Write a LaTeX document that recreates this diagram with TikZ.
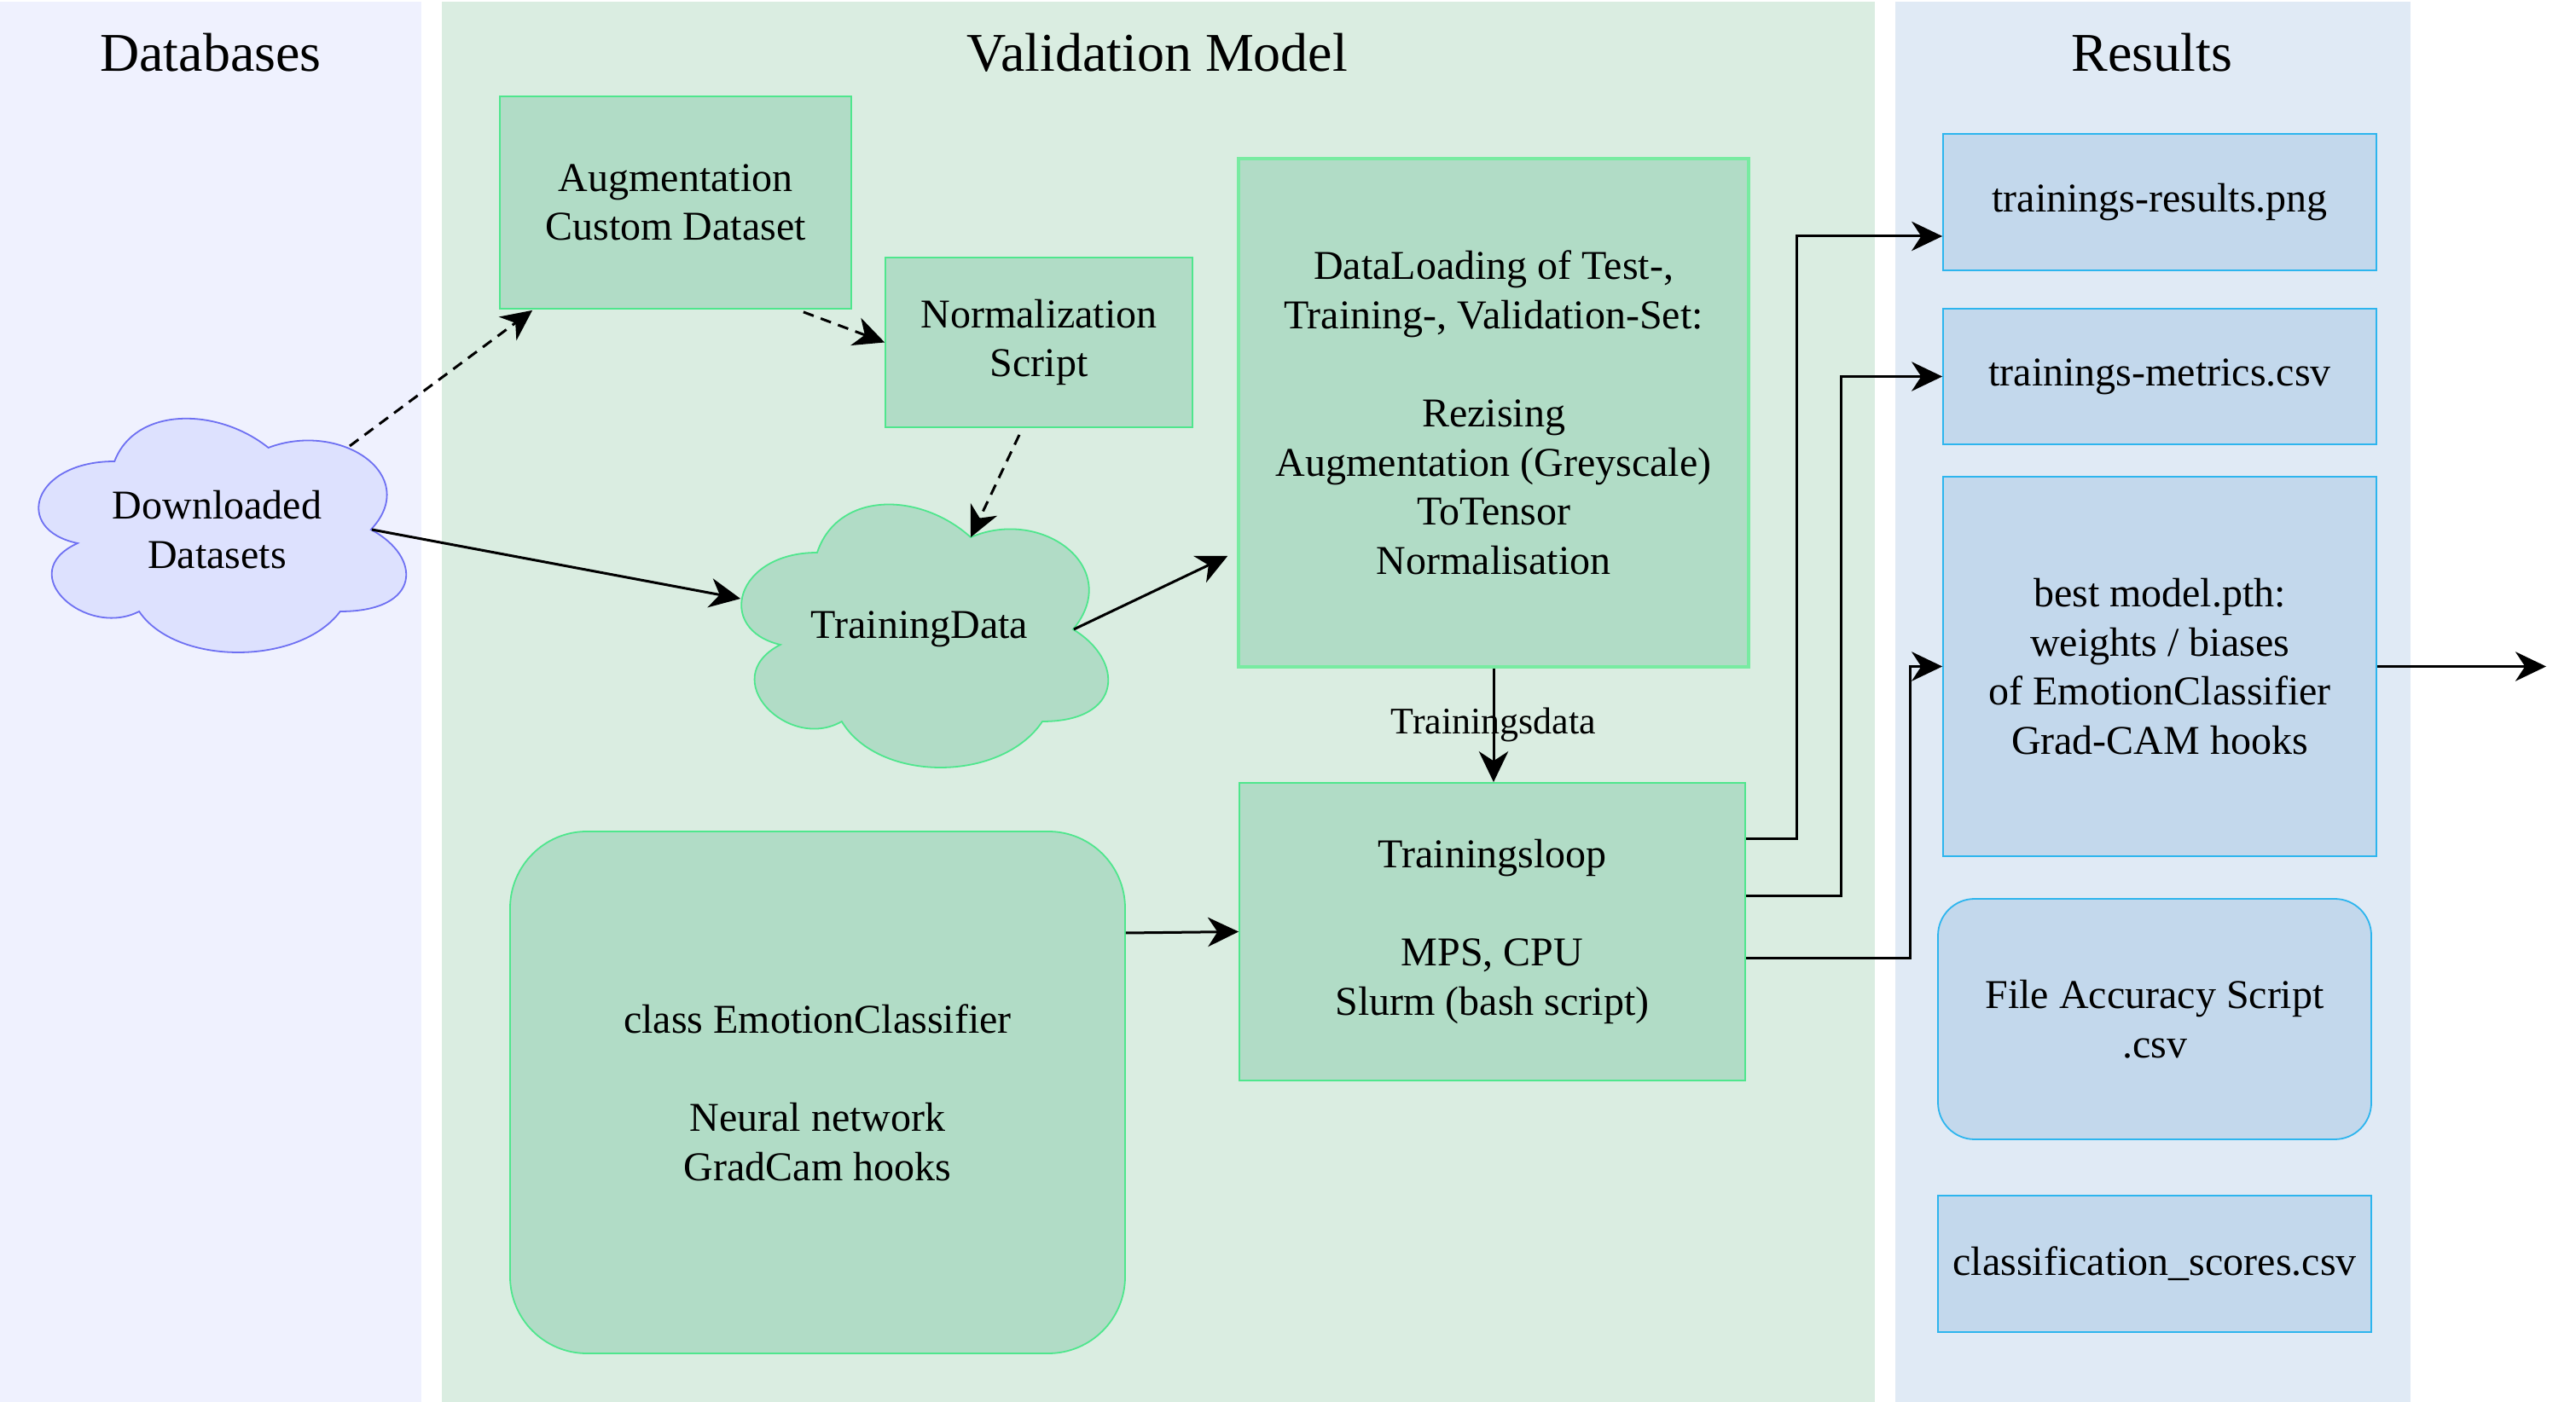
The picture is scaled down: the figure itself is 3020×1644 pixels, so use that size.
\documentclass[tikz,border=0pt]{standalone}
\usepackage{fontspec}
\setmainfont{Liberation Serif}
\usetikzlibrary{arrows.meta,calc}

\definecolor{dbpanel}{HTML}{EFF1FE}
\definecolor{valpanel}{HTML}{DAEDE1}
\definecolor{respanel}{HTML}{E0EAF5}
\definecolor{greenfill}{HTML}{B1DCC6}
\definecolor{greenline}{HTML}{4FE68D}
\definecolor{loadline}{HTML}{78EBA1}
\definecolor{bluefill}{HTML}{C3D8EC}
\definecolor{blueline}{HTML}{2DB5EE}
\definecolor{cloudfill}{HTML}{DDE1FE}
\definecolor{cloudline}{HTML}{6E70F2}

\begin{document}
\begin{tikzpicture}[x=0.25pt, y=-0.25pt,
    box/.style={rectangle, align=center, inner sep=0pt, line width=0.45pt,
                font=\fontsize{12}{14.4}\selectfont},
    greenbox/.style={box, fill=greenfill, draw=greenline},
    bluebox/.style={box, fill=bluefill, draw=blueline},
    cloudtext/.style={box},
    title/.style={inner sep=0pt, font=\fontsize{16}{19.2}\selectfont},
    arrow/.style={-{Stealth[length=9pt, width=8.6pt, inset=2.8pt]}, line width=0.75pt},
    dasharrow/.style={arrow, dash pattern=on 3.2pt off 2.2pt}]

    \useasboundingbox (0,0) rectangle (3020,1644);
    \fill[white] (0,0) rectangle (3020,1644);

    % columns
    \fill[dbpanel] (0,2) rectangle (494,1644);
    \fill[valpanel] (518,2) rectangle (2198,1644);
    \fill[respanel] (2222,2) rectangle (2826,1644);
        \node[title] (dbtitle) at (247,62) {Databases};
        \node[title] (valtitle) at (1357,62) {Validation Model};
        \node[title] (restitle) at (2523,62) {Results};

    % clouds
    \begin{scope}[shift={(14,461)}, x=120.25pt, y=-80pt]
        \draw[fill=cloudfill, draw=cloudline, line width=0.45pt]
            (0.25,0.25) .. controls (0.05,0.25) and (0,0.5) .. (0.16,0.55)
            .. controls (0,0.66) and (0.18,0.9) .. (0.31,0.8)
            .. controls (0.4,1) and (0.7,1) .. (0.8,0.8)
            .. controls (1,0.8) and (1,0.6) .. (0.875,0.5)
            .. controls (1,0.3) and (0.8,0.1) .. (0.625,0.2)
            .. controls (0.5,0.05) and (0.3,0.05) .. (0.25,0.25) -- cycle;
    \end{scope}
    \begin{scope}[shift={(838,558)}, x=120pt, y=-90pt]
        \draw[fill=greenfill, draw=greenline, line width=0.45pt]
            (0.25,0.25) .. controls (0.05,0.25) and (0,0.5) .. (0.16,0.55)
            .. controls (0,0.66) and (0.18,0.9) .. (0.31,0.8)
            .. controls (0.4,1) and (0.7,1) .. (0.8,0.8)
            .. controls (1,0.8) and (1,0.6) .. (0.875,0.5)
            .. controls (1,0.3) and (0.8,0.1) .. (0.625,0.2)
            .. controls (0.5,0.05) and (0.3,0.05) .. (0.25,0.25) -- cycle;
    \end{scope}
        \node[cloudtext, minimum width=120.25pt, minimum height=80pt] (dd) at (254.5,621) {Downloaded\\Datasets};
        \node[cloudtext, minimum width=120pt, minimum height=90pt] (td) at (1078,738) {TrainingData};

    % validation model
    \node[greenbox, minimum width=103pt, minimum height=62.25pt] (aug) at (792,237.5) {Augmentation\\Custom Dataset};
    \node[greenbox, minimum width=90pt, minimum height=49.75pt] (norm) at (1218,401.5) {Normalization\\Script};
    \node[greenbox, draw=loadline, line width=0.9pt, minimum width=149.5pt, minimum height=149pt] (load) at (1751,484)
        {DataLoading of Test-,\\Training-, Validation-Set:\\[14.4pt]Rezising\\Augmentation (Greyscale)\\ToTensor\\Normalisation};
    \node[greenbox, minimum width=148.25pt, minimum height=87.25pt] (loop) at (1749.5,1092.5)
        {Trainingsloop\\[14.4pt]MPS, CPU\\Slurm (bash script)};
    \node[greenbox, rounded corners=22.5pt, minimum width=180.25pt, minimum height=153pt] (clf) at (958.5,1281)
        {class EmotionClassifier\\[14.4pt]Neural network\\GradCam hooks};

    % results
    \node[bluebox, minimum width=127pt, minimum height=40pt] (resimg) at (2532,237) {trainings-results.png};
    \node[bluebox, minimum width=127pt, minimum height=39.75pt] (resmetrics) at (2532,441.5) {trainings-metrics.csv};
    \node[bluebox, minimum width=127pt, minimum height=111.25pt] (bestmodel) at (2532,781.5)
        {best model.pth:\\weights / biases\\of EmotionClassifier\\Grad-CAM hooks};
    \node[bluebox, rounded corners=10.75pt, minimum width=127pt, minimum height=70.5pt] (accuracy) at (2526,1195)
        {File Accuracy Script\\.csv};
    \node[bluebox, minimum width=127pt, minimum height=40pt] (scores) at (2526,1482) {classification\_scores.csv};
    \coordinate (modelout) at (2985,781.5);

    % connectors
    \draw[dasharrow] ($(dd.center)+(155.5,-98)$) -- ($(aug.south west)+(39,1)$);
    \draw[dasharrow] ($(aug.south east)+(-57,3)$) -- (norm.west);
    \draw[dasharrow] ($(norm.south)+(-23,8)$) -- ($(td.center)+(60,-108)$);
    \draw[arrow] ($(dd.east)+(-60,0)$) -- ($(td.west)+(31,-36)$);
    \draw[arrow] ($(td.east)+(-60,0)$) -- ($(load.west)+(-11,168)$);
    \draw[arrow] (load.south) -- (load.south |- loop.north)
        node[midway, inner sep=0pt, font=\fontsize{11}{13.2}\selectfont] (tdlabel) {Trainingsdata};
    \draw[arrow] ($(clf.east)+(0,-187)$) -- (loop.west);
    \draw[arrow] ($(loop.east)+(0,-108.5)$) -- ++(60,0) |- ($(resimg.west)+(0,40)$);
    \draw[arrow] ($(loop.east)+(0,-41.5)$) -- ++(112,0) |- (resmetrics.west);
    \draw[arrow] ($(loop.east)+(0,31.5)$) -- ++(193,0) |- (bestmodel.west);
    \draw[arrow] (bestmodel.east) -- (modelout);

\end{tikzpicture}
\end{document}
